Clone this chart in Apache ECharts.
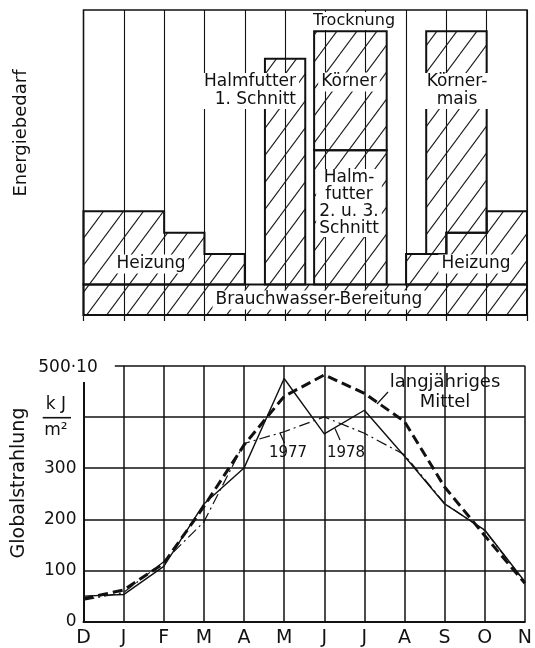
<!DOCTYPE html>
<html><head><meta charset="utf-8">
<script src="https://cdn.jsdelivr.net/npm/echarts@6/dist/echarts.min.js"></script>
<style>html,body{margin:0;padding:0;background:#fff}#c{width:535px;height:648px}</style>
</head><body><div id="c"></div>
<script>
// ---- Bottom chart: Globalstrahlung (kJ/m² · 10) ----
const months = ['D','J','F','M','A','M','J','J','A','S','O','N'];
const mittel   = [45, 62, 114, 225, 345, 440, 482, 446, 391, 263, 168, 75];
const jahr1978 = [50, 53, 108, 230, 300, 475, 367, 413, 323, 230, 179, 78];
const jahr1977 = [42, 57, 117, 195, 348, 371, 400, 368, 326, 231, 178, 77];
const yTicks = [0, 100, 200, 300, 400, 500];

// ---- Top chart: Energiebedarf (relative units), x in months from D ----
const brauchwasser  = [0, 11, 0, 10];            // x0, x1, y0, y1
const heizungLinks  = [[0, 2, 34], [2, 3, 27], [3, 4, 20]];   // x0, x1, top
const heizungRechts = [[8, 9, 20], [9, 10, 27], [10, 11, 34]];
const halmfutter1   = [4.5, 5.5, 10, 84];
const halmfutter23  = [5.72, 7.52, 10, 54];
const koerner       = [5.72, 7.52, 54, 93];
const koernermais   = [8.5, 10, 93];             // sits on heizungRechts

const BASE = brauchwasser[3];
function rectPoly(r){ return [[r[0],r[2]],[r[0],r[3]],[r[1],r[3]],[r[1],r[2]]]; }
function stepPoly(steps, base){
  const pts = [[steps[0][0], base]];
  steps.forEach(s => { pts.push([s[0], s[2]]); pts.push([s[1], s[2]]); });
  pts.push([steps[steps.length-1][1], base]);
  return pts;
}
function sitOnPoly(km, under){
  const pts = [[km[0], km[2]], [km[1], km[2]]];
  const u = under.filter(s => s[1] > km[0] && s[0] < km[1]).slice().reverse();
  u.forEach(s => { pts.push([Math.min(s[1], km[1]), s[2]]); pts.push([Math.max(s[0], km[0]), s[2]]); });
  return pts;
}
const polys = [
  rectPoly(brauchwasser),
  stepPoly(heizungLinks, BASE),
  stepPoly(heizungRechts, BASE),
  rectPoly(halmfutter1),
  rectPoly(halmfutter23),
  rectPoly(koerner),
  sitOnPoly(koernermais, heizungRechts)
];

// hatch pattern
const hc = document.createElement('canvas');
hc.width = 20; hc.height = 27;
const hx = hc.getContext('2d');
hx.strokeStyle = '#1a1a1a'; hx.lineWidth = 1.1;
[-20, 0, 20].forEach(x0 => { hx.beginPath(); hx.moveTo(x0, 27); hx.lineTo(x0 + 20, 0); hx.stroke(); });
const hatch = { image: hc, repeat: 'repeat' };

const FF = '"DejaVu Sans"';
const INK = '#111';
function txt(x, y, text, size, o){
  o = o || {};
  const st = {
    text: text, fill: INK, font: size + 'px ' + FF,
    align: o.align || 'center', textAlign: o.align || 'center',
    verticalAlign: 'middle', textVerticalAlign: 'middle',
    lineHeight: o.lh || Math.round(size * 1.1)
  };
  if (o.bg) { st.backgroundColor = '#fff'; st.padding = o.pad || [0, 3]; }
  const el = { type: 'text', x: x, y: y, z: 100, silent: true, style: st };
  if (o.rot) el.rotation = o.rot;
  return el;
}
function ln(x1, y1, x2, y2, w){
  return { type: 'line', z: 100, silent: true, shape: {x1, y1, x2, y2}, style: { stroke: INK, lineWidth: w || 1.2 } };
}

const chart = echarts.init(document.getElementById('c'), null, {renderer: 'canvas'});
chart.setOption({
  animation: false,
  backgroundColor: '#fff',
  textStyle: { fontFamily: 'DejaVu Sans' },
  grid: [
    { left: 83.5, top: 10, width: 443.5, height: 305, show: true, borderColor: INK, borderWidth: 1.5, backgroundColor: 'transparent' },
    { left: 83.5, top: 365.7, width: 443.5, height: 256 }
  ],
  xAxis: [
    { gridIndex: 0, type: 'value', min: 0, max: 11, interval: 1,
      axisLabel: { show: false }, axisLine: { show: false },
      axisTick: { show: true, length: 6, lineStyle: { color: INK, width: 1.2 } },
      splitLine: { show: true, lineStyle: { color: INK, width: 1.1 } } },
    { gridIndex: 1, type: 'value', min: 0, max: 11, interval: 1,
      axisLabel: { formatter: v => months[v] || '', fontSize: 19, color: INK, margin: 7, fontFamily: 'DejaVu Sans' },
      axisLine: { show: true, lineStyle: { color: INK, width: 2 } },
      axisTick: { show: false },
      splitLine: { show: true, showMinLine: false, lineStyle: { color: INK, width: 1.5 } } }
  ],
  yAxis: [
    { gridIndex: 0, type: 'value', min: 0, max: 100, show: false },
    { gridIndex: 1, type: 'value', min: 0, max: 500, interval: 100,
      axisLine: { show: false }, axisTick: { show: false },
      axisLabel: { formatter: v => (v === 400 || v === 500) ? '' : String(v), fontSize: 17, color: INK, margin: 7, fontFamily: 'DejaVu Sans' },
      splitLine: { show: true, showMaxLine: false, lineStyle: { color: INK, width: 1.5 } } }
  ],
  series: [
    { type: 'custom', xAxisIndex: 0, yAxisIndex: 0, silent: true, z: 2,
      data: polys.map((p, i) => [i, 0]),
      renderItem: function(params, api){
        const pts = polys[params.dataIndex].map(pt => api.coord(pt));
        return { type: 'polygon', shape: { points: pts }, style: { fill: hatch, stroke: INK, lineWidth: 2 } };
      } },
    { type: 'line', name: 'langjähriges Mittel', xAxisIndex: 1, yAxisIndex: 1, z: 3, silent: true,
      data: mittel.map((v, i) => [i, v]), symbol: 'none',
      lineStyle: { color: INK, width: 3, type: [10, 5] } },
    { type: 'line', name: '1978', xAxisIndex: 1, yAxisIndex: 1, z: 3, silent: true,
      data: jahr1978.map((v, i) => [i, v]), symbol: 'none',
      lineStyle: { color: INK, width: 1.4, type: 'solid' },
      markLine: { silent: true, symbol: ['none', 'none'], label: { show: false }, animation: false,
        lineStyle: { type: 'solid', color: INK, width: 2 },
        data: [
          [{ coord: [0, 0] }, { coord: [0, 468] }],
          [{ coord: [0.78, yTicks[5]], lineStyle: { width: 1.5, type: 'solid', color: INK } }, { coord: [11, yTicks[5]] }]
        ] } },
    { type: 'line', name: '1977', xAxisIndex: 1, yAxisIndex: 1, z: 3, silent: true,
      data: jahr1977.map((v, i) => [i, v]), symbol: 'none',
      lineStyle: { color: INK, width: 1.2, type: [11, 4, 2, 4] } }
  ],
  graphic: [
    txt(21.5, 133, 'Energiebedarf', 18, { rot: Math.PI / 2 }),
    txt(19.5, 483, 'Globalstrahlung', 19, { rot: Math.PI / 2 }),
    txt(68, 368, '500·10', 17),
    txt(56, 405, 'k J', 17),
    ln(42.7, 417.7, 71, 417.7, 1.6),
    txt(56, 431, 'm²', 17),
    txt(354, 21, 'Trocknung', 16, { bg: true }),
    txt(299, 91, 'Halmfutter\n1. Schnitt', 17, { align: 'right', lh: 18, bg: true }),
    txt(349, 82, 'Körner', 17, { bg: true }),
    txt(349, 203, 'Halm-\nfutter\n2. u. 3.\nSchnitt', 17, { lh: 17, bg: true }),
    txt(457, 91, 'Körner-\nmais', 17, { lh: 18, bg: true }),
    txt(151, 264, 'Heizung', 17, { bg: true }),
    txt(476, 264, 'Heizung', 17, { bg: true }),
    txt(319, 300, 'Brauchwasser-Bereitung', 17, { bg: true }),
    txt(445, 392, 'langjähriges\nMittel', 18, { lh: 20 }),
    ln(388, 392, 377, 404),
    txt(288, 453, '1977', 15),
    ln(280, 433, 284.5, 443),
    txt(346, 453, '1978', 15),
    ln(335, 428.5, 340, 440)
  ]
});
</script></body></html>
